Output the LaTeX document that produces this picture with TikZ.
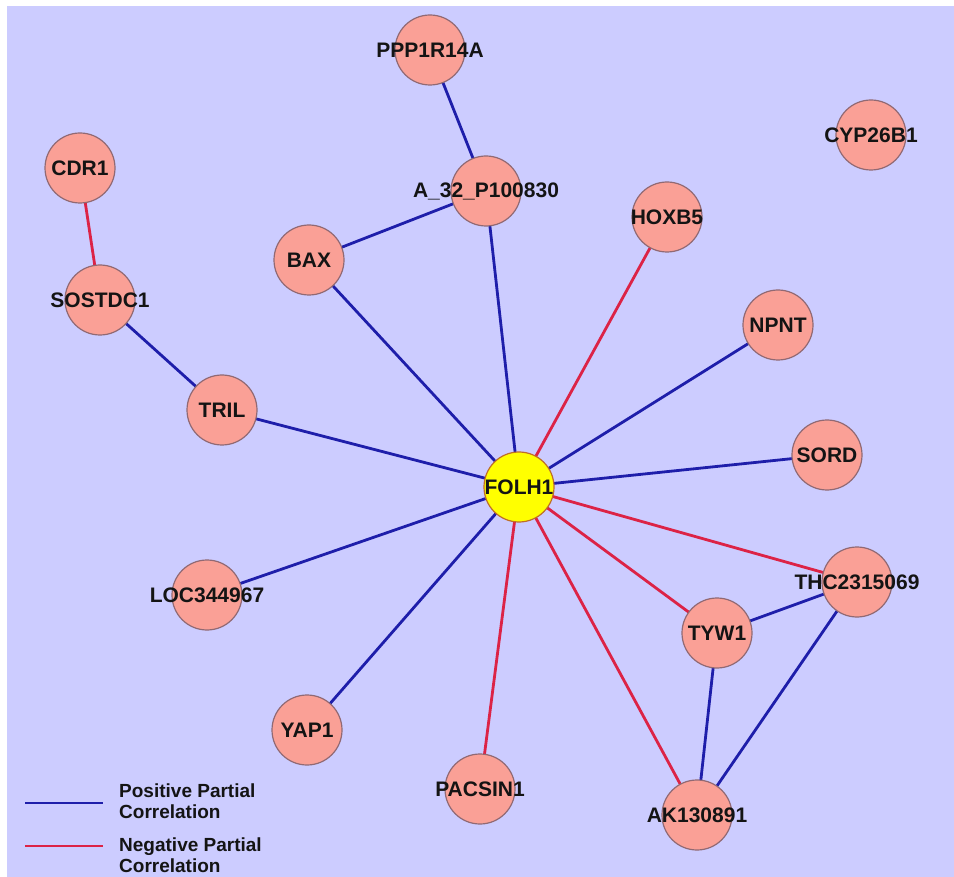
\documentclass[tikz,border=0pt]{standalone}
\usepackage{fontspec}
\setmainfont{Liberation Sans}
\pgfdeclarelayer{bg}
\pgfdeclarelayer{edges}
\pgfsetlayers{bg,edges,main}
\definecolor{bgcol}{RGB}{204,204,255}
\definecolor{salmon}{RGB}{250,160,150}
\definecolor{nodeedge}{RGB}{145,105,115}
\definecolor{hubfill}{RGB}{255,255,0}
\definecolor{hubedge}{RGB}{190,110,40}
\definecolor{posc}{RGB}{30,30,170}
\definecolor{negc}{RGB}{220,35,70}
\definecolor{txt}{RGB}{20,20,20}
\newcommand\gtxt[1]{\makebox[0pt][c]{#1}}
\tikzset{
  gene/.style={circle, minimum size=70pt, inner sep=0pt, fill=salmon, draw=nodeedge, line width=1.2pt,
     text=txt, font=\fontsize{21}{21}\selectfont\bfseries},
  hub/.style={gene, fill=hubfill, draw=hubedge},
  posedge/.style={draw=posc, line width=2.8pt},
  negedge/.style={draw=negc, line width=2.8pt},
  legtext/.style={anchor=west, inner sep=0pt, align=left, text=txt,
     font=\fontsize{19}{21}\selectfont\bfseries}
}
\begin{document}
\begin{tikzpicture}[x=1pt,y=-1pt]
\useasboundingbox (0,0) rectangle (954,877);
\begin{pgfonlayer}{bg}
\fill[white] (0,0) rectangle (954,877);
\fill[bgcol] (7,6) rectangle (954,877);
\end{pgfonlayer}

\node[gene] (ppp) at (430,50) {\gtxt{PPP1R14A}};
\node[gene] (cyp) at (871,135) {\gtxt{CYP26B1}};
\node[gene] (cdr) at (80,168) {\gtxt{CDR1}};
\node[gene] (a32) at (486,191) {\gtxt{A\_32\_P100830}};
\node[gene] (hox) at (667,217) {\gtxt{HOXB5}};
\node[gene] (bax) at (309,260) {\gtxt{BAX}};
\node[gene] (sos) at (100,300) {\gtxt{SOSTDC1}};
\node[gene] (npnt) at (778,325) {\gtxt{NPNT}};
\node[gene] (tril) at (222,410) {\gtxt{TRIL}};
\node[gene] (sord) at (827,455) {\gtxt{SORD}};
\node[hub] (folh) at (519,487) {\gtxt{FOLH1}};
\node[gene] (thc) at (857,582) {\gtxt{THC2315069}};
\node[gene] (loc) at (207,595) {\gtxt{LOC344967}};
\node[gene] (tyw) at (717,633) {\gtxt{TYW1}};
\node[gene] (yap) at (307,730) {\gtxt{YAP1}};
\node[gene] (pac) at (480,789) {\gtxt{PACSIN1}};
\node[gene] (ak) at (697,815) {\gtxt{AK130891}};

\begin{pgfonlayer}{edges}
\draw[posedge] (ppp.center) -- (a32.center);
\draw[posedge] (a32.center) -- (bax.center);
\draw[posedge] (a32.center) -- (folh.center);
\draw[posedge] (bax.center) -- (folh.center);
\draw[posedge] (sos.center) -- (tril.center);
\draw[posedge] (tril.center) -- (folh.center);
\draw[posedge] (npnt.center) -- (folh.center);
\draw[posedge] (sord.center) -- (folh.center);
\draw[posedge] (loc.center) -- (folh.center);
\draw[posedge] (yap.center) -- (folh.center);
\draw[posedge] (thc.center) -- (tyw.center);
\draw[posedge] (tyw.center) -- (ak.center);
\draw[posedge] (thc.center) -- (ak.center);
\draw[negedge] (cdr.center) -- (sos.center);
\draw[negedge] (hox.center) -- (folh.center);
\draw[negedge] (folh.center) -- (thc.center);
\draw[negedge] (folh.center) -- (tyw.center);
\draw[negedge] (folh.center) -- (ak.center);
\draw[negedge] (folh.center) -- (pac.center);
\end{pgfonlayer}

\coordinate (lp1) at (25,803);
\coordinate (lp2) at (103,803);
\coordinate (ln1) at (25,846);
\coordinate (ln2) at (103,846);
\draw[posedge] (lp1) -- (lp2);
\draw[negedge] (ln1) -- (ln2);
\node[legtext] (lpt) at (119,801.5) {Positive Partial\\Correlation};
\node[legtext] (lnt) at (119,855) {Negative Partial\\Correlation};
\end{tikzpicture}
\end{document}
